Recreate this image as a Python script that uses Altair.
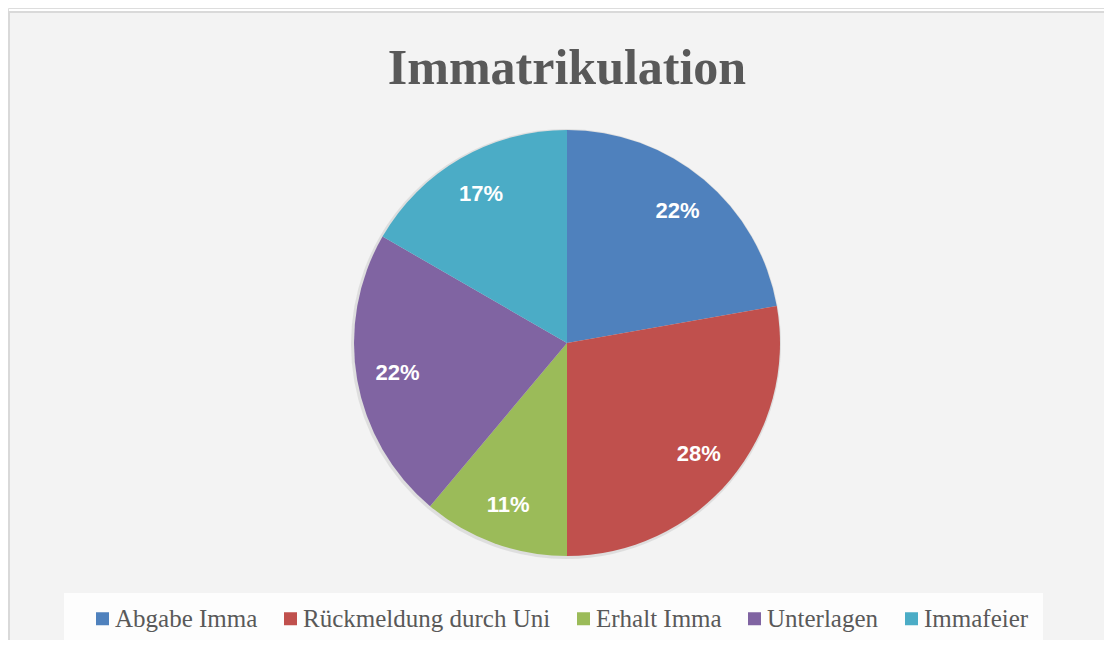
import altair as alt
import pandas as pd

title_text = "Immatrikulation"
categories = ["Abgabe Imma", "Rückmeldung durch Uni", "Erhalt Imma", "Unterlagen", "Immafeier"]
values = [4, 5, 2, 4, 3]
colors = ["#4F81BD", "#C0504D", "#9BBB59", "#8064A2", "#4BACC6"]

total = sum(values)
df = pd.DataFrame({
    "cat": categories,
    "val": values,
    "idx": list(range(len(categories))),
    "label": [f"{round(v / total * 100)}%" for v in values],
})

W, H = 1096, 632
CX, CY = 559, 335
R = 213

one = pd.DataFrame({"a": [0]})

bg = alt.Chart(one).mark_rect(fill="#f3f3f3", stroke="#d9d9d9", strokeWidth=2).encode(
    x=alt.value(1), x2=alt.value(W + 40), y=alt.value(4), y2=alt.value(H + 40)
)
legend_box = alt.Chart(one).mark_rect(fill="#fdfdfd").encode(
    x=alt.value(56), x2=alt.value(1035), y=alt.value(585), y2=alt.value(634)
)
title = alt.Chart(one).mark_text(
    text=title_text, font="Liberation Serif", fontWeight="bold", fontSize=50,
    color="#595959", baseline="alphabetic", align="center"
).encode(x=alt.value(CX), y=alt.value(76))

base = alt.Chart(df).encode(
    theta=alt.Theta("val:Q", stack=True),
    order=alt.Order("idx:Q", sort="ascending"),
)

shadow = base.mark_arc(radius=R + 2, color="#d0d0d0", opacity=0.6).encode(
    x=alt.value(CX - 1), y=alt.value(CY + 1)
)

pie = base.mark_arc(radius=R, strokeWidth=0).encode(
    color=alt.Color(
        "cat:N",
        scale=alt.Scale(domain=categories, range=colors),
        legend=alt.Legend(
            title=None, orient="none", legendX=82, legendY=598,
            direction="horizontal", columns=5, symbolType="square",
            symbolSize=169, symbolStrokeWidth=0, labelFont="Liberation Serif",
            labelFontSize=25, labelColor="#595959", columnPadding=20,
            labelOffset=0, labelLimit=400,
        ),
    ),
    x=alt.value(CX), y=alt.value(CY),
)

labels = base.mark_text(
    radius=172, font="Liberation Sans", fontWeight="bold", fontSize=22, color="white"
).encode(text="label:N", x=alt.value(CX), y=alt.value(CY))

chart = alt.layer(bg, legend_box, title, shadow, pie, labels).properties(
    width=W, height=H, autosize=alt.AutoSizeParams(type="none"), padding=0
).configure_view(stroke=None).configure(background="white")

chart.save("out.html", embed_options={"renderer": "svg", "actions": False})
